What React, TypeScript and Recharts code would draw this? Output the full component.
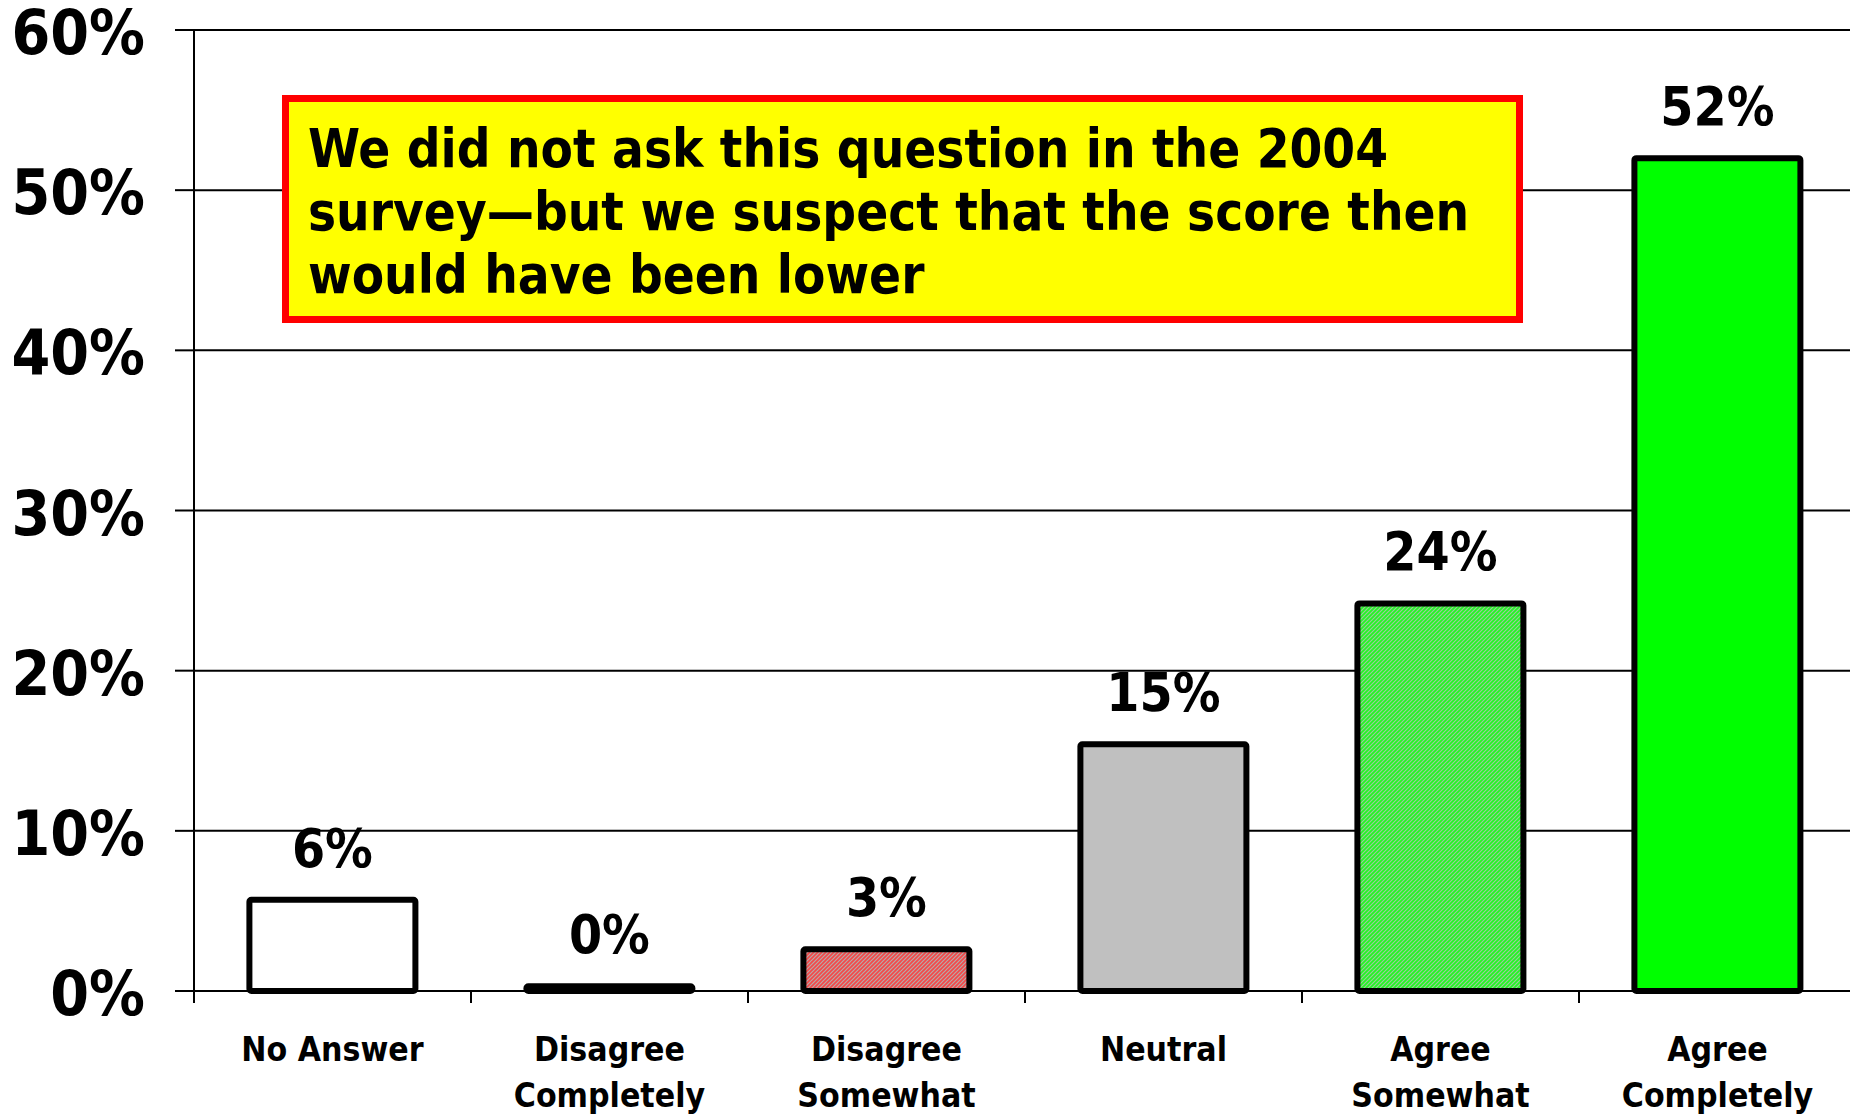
import React from "react";
import { BarChart, Bar, XAxis, YAxis, CartesianGrid, Cell, LabelList } from "recharts";

const categories = ["No Answer", "Disagree\nCompletely", "Disagree\nSomewhat", "Neutral", "Agree\nSomewhat", "Agree\nCompletely"];
const values = [5.7, 0.3, 2.6, 15.4, 24.2, 52.0];
const yTicks = [0, 10, 20, 30, 40, 50, 60];
const noteLines = ["We did not ask this question in the 2004", "survey\u2014but we suspect that the score then", "would have been lower"];

const FILLS = ["#ffffff", "#000000", "url(#redHatch)", "#c0c0c0", "url(#greenHatch)", "#00ff00"];
const FONT = "'DejaVu Sans Condensed', 'DejaVu Sans', sans-serif";

const data = categories.map((c, i) => ({ name: c, value: values[i] }));

const CHART_W = 1862;
const PLOT_LEFT = 194;
const PLOT_RIGHT_MARGIN = 6;
const BAND_HALF = (CHART_W - PLOT_LEFT - PLOT_RIGHT_MARGIN) / categories.length / 2;

const YTick = (props: any) => {
  const { x, y, payload } = props;
  return (
    <text x={x - 30} y={y} dy={24} textAnchor="end" fontFamily={FONT} fontWeight="bold" fontSize={62} fill="#000">
      {payload.value}%
    </text>
  );
};

const XTick = (props: any) => {
  const { x, y, payload } = props;
  const half = payload && payload.offset ? payload.offset : BAND_HALF;
  const lines = String(payload.value).split("\n");
  return (
    <g>
      <line x1={x - half} x2={x - half} y1={y} y2={y + 12} stroke="#000" strokeWidth={2} />
      <text x={x} y={y + 70} textAnchor="middle" fontFamily={FONT} fontWeight="bold" fontSize={33.5} fill="#000">
        {lines.map((l, i) => (
          <tspan key={i} x={x} dy={i === 0 ? 0 : 46}>
            {l}
          </tspan>
        ))}
      </text>
    </g>
  );
};

const ValueLabel = (props: any) => {
  const { x, y, width, value } = props;
  return (
    <text x={x + width / 2} y={y - 33} textAnchor="middle" fontFamily={FONT} fontWeight="bold" fontSize={53} fill="#000">
      {Math.round(value)}%
    </text>
  );
};

export default function App() {
  return (
    <div style={{ position: "absolute", left: 0, top: 0, width: 1850, height: 1117, overflow: "hidden", background: "#fff" }}>
      <BarChart
        width={CHART_W}
        height={1117}
        data={data}
        margin={{ top: 30, right: PLOT_RIGHT_MARGIN, bottom: 0, left: 0 }}
        barCategoryGap="20%"
      >
        <defs>
          <pattern id="redHatch" width="4" height="4" patternUnits="userSpaceOnUse">
            <rect width="4" height="4" fill="#f44848" />
            <path d="M0,4 L4,0 M-1,1 L1,-1 M3,5 L5,3" stroke="#b8a8a8" strokeWidth="1.2" />
          </pattern>
          <pattern id="greenHatch" width="4" height="4" patternUnits="userSpaceOnUse">
            <rect width="4" height="4" fill="#22f622" />
            <path d="M0,4 L4,0 M-1,1 L1,-1 M3,5 L5,3" stroke="#a0c8a0" strokeWidth="1.1" />
          </pattern>
        </defs>
        <CartesianGrid vertical={false} stroke="#000" strokeWidth={2} />
        <XAxis
          dataKey="name"
          height={126}
          interval={0}
          tickLine={false}
          tickSize={0}
          tickMargin={0}
          axisLine={{ stroke: "#000", strokeWidth: 2 }}
          tick={<XTick />}
        />
        <YAxis
          width={PLOT_LEFT}
          domain={[0, 60]}
          ticks={yTicks}
          interval={0}
          tickSize={19}
          tickMargin={0}
          tickLine={{ stroke: "#000", strokeWidth: 2 }}
          axisLine={{ stroke: "#000", strokeWidth: 2 }}
          tick={<YTick />}
        />
        <Bar dataKey="value" isAnimationActive={false} stroke="#000" strokeWidth={6} radius={2}>
          {data.map((d, i) => (
            <Cell key={i} fill={FILLS[i]} />
          ))}
          <LabelList dataKey="value" content={<ValueLabel />} />
        </Bar>
      </BarChart>
      <div
        style={{
          position: "absolute",
          left: 282,
          top: 95,
          width: 1241,
          height: 228,
          boxSizing: "border-box",
          border: "7px solid #ff0000",
          background: "#ffff00",
          paddingLeft: 19,
          paddingTop: 15,
          fontFamily: FONT,
          fontWeight: "bold",
          fontSize: 52.5,
          lineHeight: "63px",
          color: "#000",
          whiteSpace: "nowrap",
        }}
      >
        {noteLines.map((l, i) => (
          <div key={i}>{l}</div>
        ))}
      </div>
    </div>
  );
}
